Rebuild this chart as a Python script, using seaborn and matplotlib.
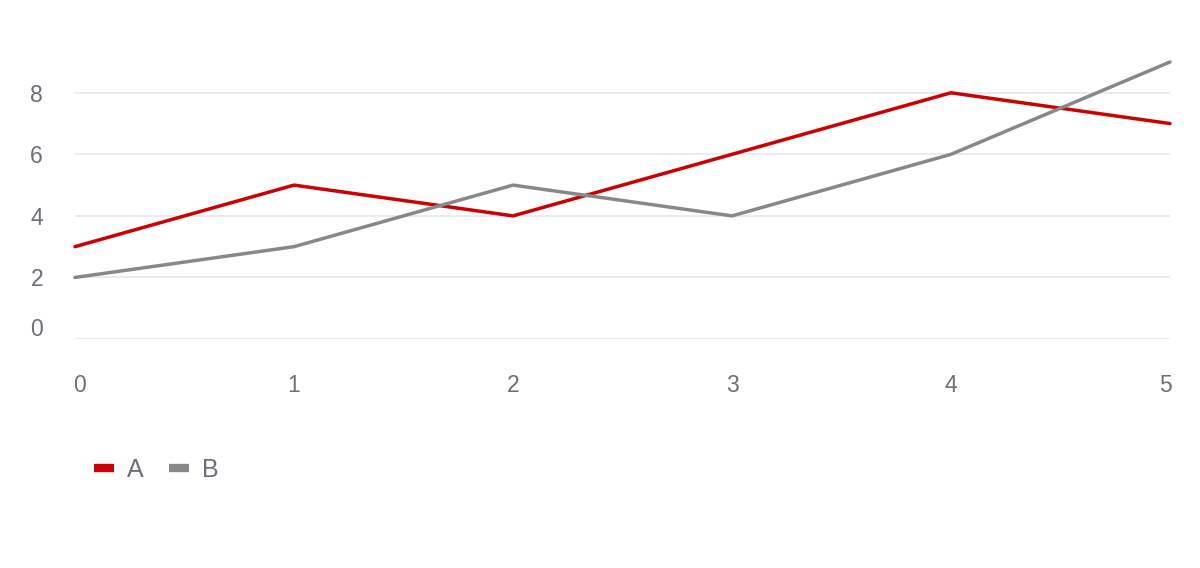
import matplotlib
matplotlib.use("Agg")
import matplotlib.pyplot as plt
import matplotlib.transforms as mtransforms
import seaborn as sns
import pandas as pd

# Data
x_values = [0, 1, 2, 3, 4, 5]
series_a = [3, 5, 4, 6, 8, 7]
series_b = [2, 3, 5, 4, 6, 9]
series_names = ["A", "B"]
y_ticks = [0, 2, 4, 6, 8]

df = pd.DataFrame({
    "x": x_values * 2,
    "y": series_a + series_b,
    "series": [series_names[0]] * len(x_values) + [series_names[1]] * len(x_values),
})

sns.set_theme(style="white")
plt.rcParams["font.family"] = ["Liberation Sans", "DejaVu Sans"]

TEXT = "#6E7079"
GRID = "#E0E6F1"
palette = {"A": "#CC0000", "B": "#888888"}

fig = plt.figure(figsize=(12, 5.68), dpi=100)
ax = fig.add_axes([75 / 1200, (568 - 339) / 568, (1170 - 75) / 1200, (339 - 62) / 568])

sns.lineplot(data=df, x="x", y="y", hue="series", palette=palette,
             linewidth=2.5, ax=ax, legend=True, clip_on=False)

ax.set_xlim(0, 5)
ax.set_ylim(0, 9)
ax.set_xticks(x_values)
ax.set_yticks(y_ticks)
ax.set_xlabel("")
ax.set_ylabel("")
for s in ax.spines.values():
    s.set_visible(False)
ax.grid(False)
for t in y_ticks:
    ax.axhline(t, color=GRID, linewidth=1.1, zorder=0)

ax.tick_params(axis="both", length=0, labelsize=16.5, labelcolor=TEXT)
ax.tick_params(axis="x", pad=25)
ax.tick_params(axis="y", pad=23)

# Shift labels like the reference
fig.canvas.draw()
ylabels = ax.get_yticklabels()
ylabels[0].set_transform(ylabels[0].get_transform() +
                         mtransforms.ScaledTranslation(0, 12 / 100, fig.dpi_scale_trans))
xlabels = ax.get_xticklabels()
xlabels[0].set_transform(xlabels[0].get_transform() +
                         mtransforms.ScaledTranslation(5 / 100, 0, fig.dpi_scale_trans))
xlabels[-1].set_transform(xlabels[-1].get_transform() +
                          mtransforms.ScaledTranslation(-5 / 100, 0, fig.dpi_scale_trans))

# Legend
handles, labels = ax.get_legend_handles_labels()
leg = ax.legend(handles, labels, loc="center left",
                bbox_to_anchor=(94 / 1200, (568 - 470) / 568),
                bbox_transform=fig.transFigure, ncol=2, frameon=False,
                fontsize=18, handlelength=0.8, handletextpad=0.52,
                columnspacing=1.0, borderaxespad=0, borderpad=0)
for line in leg.get_lines():
    line.set_linewidth(6)
    line.set_solid_capstyle("butt")
for t in leg.get_texts():
    t.set_color(TEXT)

fig.savefig("out.png", dpi=100)
